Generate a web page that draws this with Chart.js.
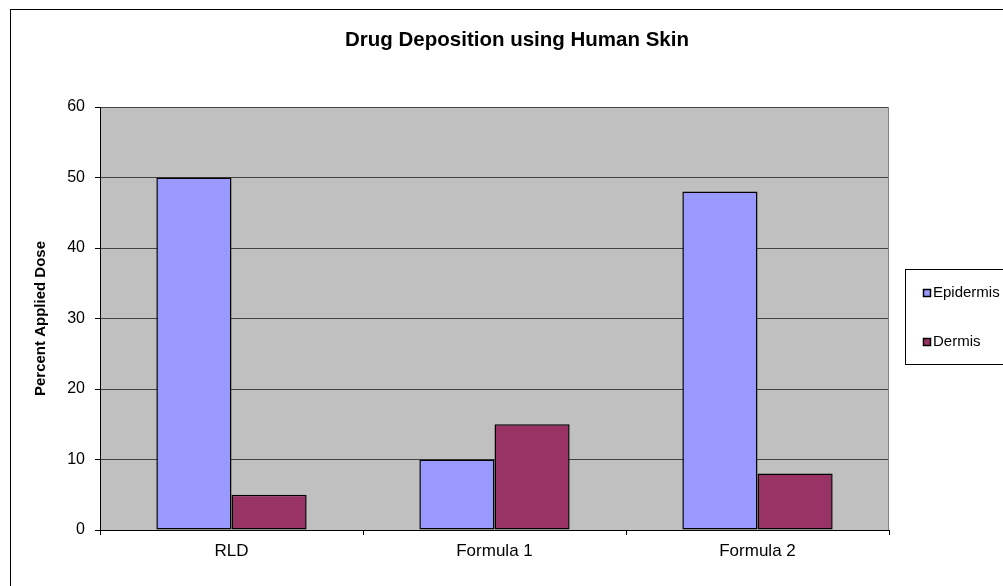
<!DOCTYPE html>
<html>
<head>
<meta charset="utf-8">
<script src="https://cdn.jsdelivr.net/npm/chart.js@4.4.1/dist/chart.umd.min.js"></script>
<style>
  html, body { margin: 0; padding: 0; background: #fff; }
  canvas { display: block; }
</style>
</head>
<body>
<canvas id="c" width="1003" height="586"></canvas>
<script>
// Chart data
const categories = ['RLD', 'Formula 1', 'Formula 2'];
const seriesNames = ['Epidermis', 'Dermis'];
const epidermis = [50, 10, 48];
const dermis = [5, 15, 8];
const yTickValues = [0, 10, 20, 30, 40, 50, 60];
const chartTitle = 'Drug Deposition using Human Skin';
const yAxisTitle = 'Percent Applied Dose';

const FONT = "'Liberation Sans', Arial, Helvetica, sans-serif";

// Background, frame, title, axis title and boxed legend
const decorations = {
  id: 'decorations',
  beforeDraw(chart) {
    const { ctx, chartArea: a } = chart;
    ctx.save();
    ctx.fillStyle = '#ffffff';
    ctx.fillRect(0, 0, chart.width, chart.height);
    ctx.fillStyle = '#C0C0C0';
    ctx.fillRect(a.left, a.top, a.right - a.left, a.bottom - a.top);
    ctx.restore();
  },
  afterDraw(chart) {
    const { ctx, chartArea: a } = chart;
    ctx.save();

    // outer chart border
    ctx.strokeStyle = '#000';
    ctx.lineWidth = 1;
    ctx.strokeRect(10.5, 9.5, 1100, 700);

    // plot area right edge
    ctx.strokeStyle = '#808080';
    ctx.beginPath();
    ctx.moveTo(Math.round(a.right) - 0.5, a.top);
    ctx.lineTo(Math.round(a.right) - 0.5, a.bottom);
    ctx.stroke();

    // chart title
    ctx.fillStyle = '#000';
    ctx.font = `bold 20.5px ${FONT}`;
    ctx.textAlign = 'center';
    ctx.textBaseline = 'middle';
    ctx.fillText(chartTitle, 517, 40);

    // y axis title
    ctx.save();
    ctx.translate(41, (a.top + a.bottom) / 2);
    ctx.rotate(-Math.PI / 2);
    ctx.font = `bold 15px ${FONT}`;
    ctx.fillText(yAxisTitle, 0, 0);
    ctx.restore();

    // legend box
    const lx = 905, ly = 269, lh = 95;
    ctx.fillStyle = '#fff';
    ctx.fillRect(lx, ly, 200, lh);
    ctx.strokeStyle = '#000';
    ctx.strokeRect(lx + 0.5, ly + 0.5, 200, lh);
    ctx.font = `15px ${FONT}`;
    ctx.textAlign = 'left';
    ctx.textBaseline = 'middle';
    chart.data.datasets.forEach((ds, i) => {
      const cy = ly + 24 + i * 49;
      ctx.fillStyle = ds.backgroundColor;
      ctx.fillRect(923, cy - 4, 8, 8);
      ctx.strokeStyle = '#000';
      ctx.lineWidth = 1.5;
      ctx.strokeRect(923.5, cy - 3.5, 7, 7);
      ctx.fillStyle = '#000';
      ctx.fillText(ds.label, 933, cy);
    });

    ctx.restore();
  }
};

new Chart(document.getElementById('c'), {
  type: 'bar',
  data: {
    labels: categories,
    datasets: [
      {
        label: seriesNames[0],
        data: epidermis,
        backgroundColor: '#9999FF',
        borderColor: '#000',
        borderWidth: 1.5,
        borderSkipped: false
      },
      {
        label: seriesNames[1],
        data: dermis,
        backgroundColor: '#993366',
        borderColor: '#000',
        borderWidth: 1.5,
        borderSkipped: false
      }
    ]
  },
  options: {
    responsive: false,
    animation: false,
    events: [],
    layout: { padding: { top: 107, right: 114, bottom: 0, left: 0 } },
    datasets: {
      bar: { categoryPercentage: 1 / 1.75, barPercentage: 1 }
    },
    plugins: {
      legend: { display: false },
      title: { display: false },
      tooltip: { enabled: false }
    },
    scales: {
      x: {
        afterFit(scale) { scale.height = 56; },
        grid: {
          offset: true,
          drawOnChartArea: false,
          drawTicks: true,
          tickLength: 5,
          tickColor: '#000'
        },
        border: { display: true, color: '#000', width: 1 },
        ticks: {
          color: '#000',
          font: { family: FONT, size: 17 },
          padding: 6,
          maxRotation: 0
        }
      },
      y: {
        min: 0,
        max: 60,
        afterFit(scale) { scale.width = 100; },
        afterBuildTicks(scale) {
          scale.ticks = yTickValues.map(v => ({ value: v }));
        },
        grid: {
          color: '#444',
          lineWidth: 1,
          drawTicks: true,
          tickLength: 5,
          tickColor: '#000'
        },
        border: { display: true, color: '#000', width: 1 },
        ticks: {
          color: '#000',
          font: { family: FONT, size: 16 },
          padding: 10
        }
      }
    }
  },
  plugins: [decorations]
});
</script>
</body>
</html>
